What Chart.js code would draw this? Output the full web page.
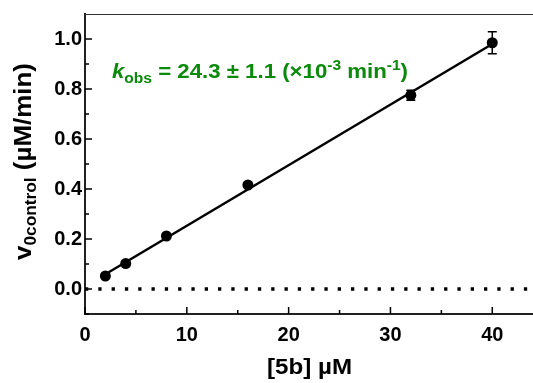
<!DOCTYPE html>
<html>
<head>
<meta charset="utf-8">
<script src="https://cdn.jsdelivr.net/npm/chart.js@4/dist/chart.umd.min.js"></script>
<style>
  html, body { margin: 0; padding: 0; background: #fff; }
  #wrap { width: 533px; height: 383px; }
</style>
</head>
<body>
<div id="wrap"><canvas id="chart" width="533" height="383"></canvas></div>
<script>
// data
const concX = [2, 4, 8, 16, 32, 40];
const rateY = [0.052, 0.102, 0.212, 0.416, 0.775, 0.985];
const rateErr = [0, 0, 0, 0, 0.02, 0.044];

// linear fit (end points)
const fitX = [2, 40];
const fitY = [0.059, 0.980];

// dotted baseline
const zeroX = [0, 44];
const zeroY = [0, 0];

const xMajor = [0, 10, 20, 30, 40];
const xTickLabels = ['0', '10', '20', '30', '40'];
const xMinor = [5, 15, 25, 35];
const yMajor = [0, 0.2, 0.4, 0.6, 0.8, 1.0];
const yTickLabels = ['0.0', '0.2', '0.4', '0.6', '0.8', '1.0'];
const yMinor = [-0.1, 0.1, 0.3, 0.5, 0.7, 0.9];

const FONT = '"Liberation Sans", Arial, Helvetica, sans-serif';
const GREEN = '#0b8a0b';

const pts = (xs, ys) => xs.map((x, i) => ({ x, y: ys[i] }));

// draws a run of text pieces (sub/superscripts) stretched to a given width
function drawRuns(ctx, runs, x, y, width, color) {
    ctx.save();
    let total = 0;
    runs.forEach(r => {
        ctx.font = `${r.italic ? 'italic ' : ''}bold ${r.size}px ${FONT}`;
        r.w = ctx.measureText(r.text).width;
        total += r.w;
    });
    const sx = width ? width / total : 1;
    ctx.translate(x, y);
    ctx.scale(sx, 1);
    ctx.fillStyle = color;
    ctx.textBaseline = 'alphabetic';
    ctx.textAlign = 'left';
    let cx = 0;
    runs.forEach(r => {
        ctx.font = `${r.italic ? 'italic ' : ''}bold ${r.size}px ${FONT}`;
        ctx.fillText(r.text, cx, r.dy || 0);
        cx += r.w;
    });
    ctx.restore();
}

const extras = {
    id: 'extras',
    afterDatasetsDraw(chart) {
        const { ctx, chartArea: a, scales: { x, y } } = chart;
        ctx.save();
        ctx.strokeStyle = '#000';

        // error bars
        ctx.lineWidth = 1.5;
        concX.forEach((cx, i) => {
            if (!rateErr[i]) return;
            const px = x.getPixelForValue(cx);
            const top = y.getPixelForValue(rateY[i] + rateErr[i]);
            const bot = y.getPixelForValue(rateY[i] - rateErr[i]);
            ctx.beginPath();
            ctx.moveTo(px, top); ctx.lineTo(px, bot);
            ctx.moveTo(px - 4.5, top); ctx.lineTo(px + 4.5, top);
            ctx.moveTo(px - 4.5, bot); ctx.lineTo(px + 4.5, bot);
            ctx.stroke();
        });

        // inward ticks
        ctx.lineWidth = 1.5;
        ctx.beginPath();
        xMajor.forEach(v => { const p = x.getPixelForValue(v); ctx.moveTo(p, a.bottom); ctx.lineTo(p, a.bottom - 7); });
        xMinor.forEach(v => { const p = x.getPixelForValue(v); ctx.moveTo(p, a.bottom); ctx.lineTo(p, a.bottom - 4); });
        yMajor.forEach(v => { const p = y.getPixelForValue(v); ctx.moveTo(a.left, p); ctx.lineTo(a.left + 7, p); });
        yMinor.forEach(v => { const p = y.getPixelForValue(v); ctx.moveTo(a.left, p); ctx.lineTo(a.left + 4, p); });
        ctx.stroke();

        // top frame line
        ctx.lineWidth = 1;
        ctx.strokeStyle = '#333';
        ctx.beginPath();
        ctx.moveTo(a.left, a.top + 0.5); ctx.lineTo(a.right, a.top + 0.5);
        ctx.stroke();
        ctx.restore();

        // annotation
        drawRuns(ctx, [
            { text: 'k', size: 20, italic: true },
            { text: 'obs', size: 14, dy: 5.5 },
            { text: ' = 24.3 \u00b1 1.1 (\u00d710', size: 20 },
            { text: '-3', size: 14, dy: -8 },
            { text: ' min', size: 20 },
            { text: '-1', size: 14, dy: -8 },
            { text: ')', size: 20 }
        ], 112, 77.5, 296, GREEN);

        // x title
        drawRuns(ctx, [{ text: '[5b] \u00b5M', size: 22 }], 267, 374, 85, '#000');

        // y title
        ctx.save();
        ctx.translate(31, 260);
        ctx.rotate(-Math.PI / 2);
        drawRuns(ctx, [
            { text: 'v', size: 24 },
            { text: '0control', size: 16, dy: 5 },
            { text: ' (\u00b5M/min)', size: 24 }
        ], 0, 0, 197, '#000');
        ctx.restore();
    }
};

new Chart(document.getElementById('chart'), {
    type: 'scatter',
    data: {
        datasets: [
            {
                type: 'line',
                data: pts(zeroX, zeroY),
                borderColor: '#000',
                borderWidth: 3.3,
                borderDash: [3.3, 10],
                borderCapStyle: 'butt',
                pointRadius: 0
            },
            {
                type: 'line',
                data: pts(fitX, fitY),
                borderColor: '#000',
                borderWidth: 2.5,
                pointRadius: 0
            },
            {
                data: pts(concX, rateY),
                backgroundColor: '#000',
                borderWidth: 0,
                pointRadius: 5.5
            }
        ]
    },
    options: {
        responsive: false,
        animation: false,
        events: [],
        layout: { autoPadding: false, padding: { top: 14, right: 0, left: 0, bottom: 0 } },
        plugins: { legend: { display: false }, tooltip: { enabled: false } },
        scales: {
            x: {
                type: 'linear',
                min: 0,
                max: 44,
                afterBuildTicks: s => { s.ticks = xMajor.map(v => ({ value: v })); },
                afterFit: s => { s.height = 69; s.paddingLeft = 0; s.paddingRight = 0; },
                grid: { display: false, drawTicks: false },
                border: { display: true, color: '#222', width: 2 },
                ticks: {
                    color: '#000',
                    padding: 9,
                    maxRotation: 0,
                    font: { family: FONT, size: 20, weight: 'bold' },
                    callback: (v, i) => xTickLabels[i]
                }
            },
            y: {
                type: 'linear',
                min: -0.1,
                max: 1.1,
                afterBuildTicks: s => { s.ticks = yMajor.map(v => ({ value: v })); },
                afterFit: s => { s.width = 85; s.paddingTop = 0; s.paddingBottom = 0; },
                grid: { display: false, drawTicks: false },
                border: { display: true, color: '#222', width: 2 },
                ticks: {
                    color: '#000',
                    padding: 3,
                    font: { family: FONT, size: 20, weight: 'bold' },
                    callback: (v, i) => yTickLabels[i]
                }
            }
        }
    },
    plugins: [extras]
});
</script>
</body>
</html>
